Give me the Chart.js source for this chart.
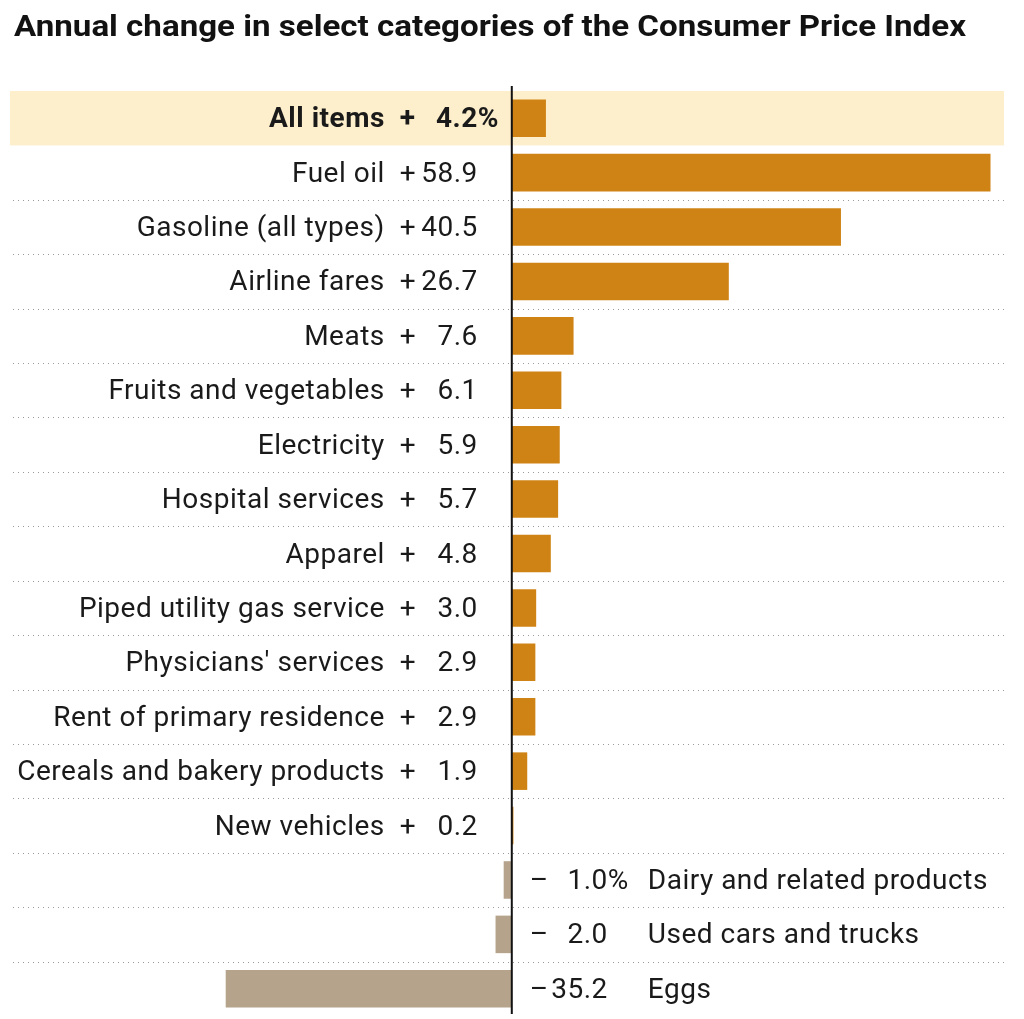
<!DOCTYPE html>
<html>
<head>
<meta charset="utf-8">
<script src="https://cdn.jsdelivr.net/npm/chart.js@4"></script>
<style>
  html, body { margin: 0; padding: 0; background: #fff; }
  #wrap { width: 1024px; height: 1019px; position: relative; }
</style>
</head>
<body>
<div id="wrap"><canvas id="cpiChart"></canvas></div>
<script>
const title = 'Annual change in select categories of the Consumer Price Index';
const categories = [
  'All items', 'Fuel oil', 'Gasoline (all types)', 'Airline fares', 'Meats',
  'Fruits and vegetables', 'Electricity', 'Hospital services', 'Apparel',
  'Piped utility gas service', "Physicians' services", 'Rent of primary residence',
  'Cereals and bakery products', 'New vehicles', 'Dairy and related products',
  'Used cars and trucks', 'Eggs'
];
const changes = [4.2, 58.9, 40.5, 26.7, 7.6, 6.1, 5.9, 5.7, 4.8, 3.0, 2.9, 2.9, 1.9, 0.2, -1.0, -2.0, -35.2];

const UP = '#cf8314';
const DOWN = '#b5a48b';
const BAND = '#fdefcb';
const FONT = 'Roboto, "Noto Sans", sans-serif';

const tablePlugin = {
  id: 'table',
  beforeDatasetsDraw(chart) {
    const { ctx, chartArea, scales } = chart;
    const y = scales.y;
    const step = y.getPixelForValue(1) - y.getPixelForValue(0);
    ctx.save();
    // highlight row for All items
    ctx.fillStyle = BAND;
    ctx.fillRect(chartArea.left, y.getPixelForValue(0) - step / 2, chartArea.right - chartArea.left, step);
    // dotted separators
    ctx.strokeStyle = '#9a9a9a';
    ctx.lineWidth = 1;
    ctx.setLineDash([1, 4]);
    for (let i = 1; i < categories.length - 1; i++) {
      const yy = Math.round(y.getPixelForValue(i) + step / 2) + 0.5;
      ctx.beginPath();
      ctx.moveTo(chartArea.left + 3, yy);
      ctx.lineTo(chartArea.right, yy);
      ctx.stroke();
    }
    ctx.restore();
  },
  afterDatasetsDraw(chart) {
    const { ctx, chartArea, scales } = chart;
    const x0 = scales.x.getPixelForValue(0);
    ctx.save();
    // title, stretched to the width it has in the original
    ctx.fillStyle = '#121212';
    ctx.font = 'bold 29px Roboto, sans-serif';
    ctx.textBaseline = 'middle';
    ctx.textAlign = 'left';
    const tw = ctx.measureText(title).width;
    ctx.save();
    ctx.translate(14, 29);
    ctx.scale(952 / tw, 1);
    ctx.fillText(title, 0, 0);
    ctx.restore();

    // zero line
    ctx.strokeStyle = '#121212';
    ctx.lineWidth = 2;
    ctx.beginPath();
    ctx.moveTo(x0, 86);
    ctx.lineTo(x0, chartArea.bottom - 2);
    ctx.stroke();

    // row labels
    ctx.fillStyle = '#1a1a1a';
    ctx.letterSpacing = '0.5px';
    categories.forEach((name, i) => {
      const v = changes[i];
      const yy = scales.y.getPixelForValue(i) + 2;
      const num = Math.abs(v).toFixed(1);
      ctx.font = (i === 0 ? 'bold ' : '') + '28px ' + FONT;
      if (v >= 0) {
        ctx.textAlign = 'right';
        ctx.fillText(name, x0 - 127, yy);
        ctx.textAlign = 'left';
        ctx.fillText('+', x0 - 112, yy);
        ctx.textAlign = 'right';
        ctx.fillText(num, x0 - 34, yy);
        if (i === 0) {
          ctx.textAlign = 'left';
          ctx.fillText('%', x0 - 34, yy);
        }
      } else {
        ctx.textAlign = 'left';
        ctx.fillText('\u2013', x0 + 18, yy);
        ctx.textAlign = 'right';
        ctx.fillText(num, x0 + 96, yy);
        if (i === categories.length - 3) {
          ctx.textAlign = 'left';
          ctx.fillText('%', x0 + 96, yy);
        }
        ctx.textAlign = 'left';
        ctx.fillText(name, x0 + 136, yy);
      }
    });
    ctx.restore();
  }
};

new Chart(document.getElementById('cpiChart'), {
  type: 'bar',
  data: {
    labels: categories,
    datasets: [{
      data: changes,
      backgroundColor: changes.map(v => v >= 0 ? UP : DOWN),
      borderWidth: 0,
      barPercentage: 0.69,
      categoryPercentage: 1
    }]
  },
  options: {
    indexAxis: 'y',
    responsive: true,
    maintainAspectRatio: false,
    animation: false,
    layout: { padding: { left: 10, right: 20, top: 91, bottom: 3 } },
    plugins: {
      legend: { display: false },
      tooltip: { enabled: false },
      title: { display: false }
    },
    scales: {
      x: { display: false, min: -61.74, max: 60.56 },
      y: { display: false }
    }
  },
  plugins: [tablePlugin]
});
</script>
</body>
</html>
